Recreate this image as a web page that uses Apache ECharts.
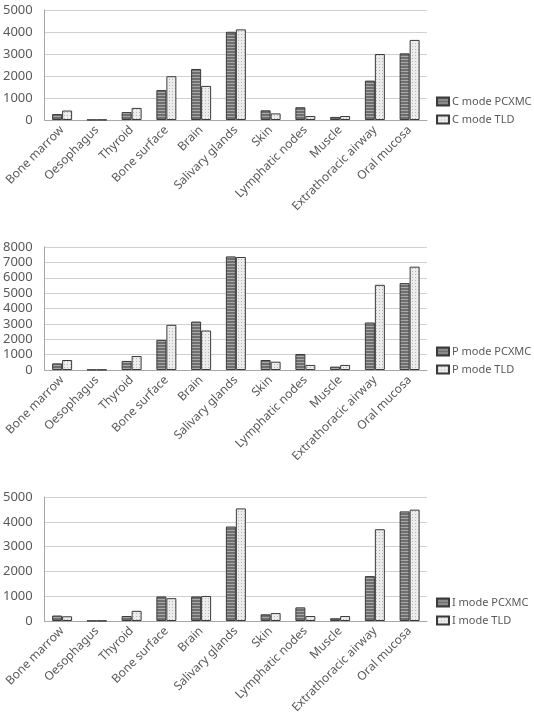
<!DOCTYPE html>
<html>
<head>
<meta charset="utf-8">
<script src="https://cdn.jsdelivr.net/npm/echarts@6/dist/echarts.min.js"></script>
<style>
  html, body { margin: 0; padding: 0; background: #fff; }
  #chart { width: 534px; height: 722px; }
</style>
</head>
<body>
<div id="chart"></div>
<script>
// organs on the x axis, same for all three panels
var organs = ["Bone marrow", "Oesophagus", "Thyroid", "Bone surface", "Brain", "Salivary glands",
  "Skin", "Lymphatic nodes", "Muscle", "Extrathoracic airway", "Oral mucosa"];

// C mode
var cPcxmc = [270, 10, 360, 1360, 2320, 4010, 440, 580, 140, 1790, 3030];
var cTld = [430, 10, 550, 1990, 1550, 4120, 300, 180, 180, 3000, 3640];
// P mode
var pPcxmc = [430, 20, 590, 1960, 3150, 7390, 650, 1040, 220, 3090, 5650];
var pTld = [650, 20, 910, 2940, 2570, 7350, 540, 330, 330, 5540, 6720];
// I mode
var iPcxmc = [220, 10, 200, 990, 990, 3810, 270, 550, 110, 1810, 4420];
var iTld = [190, 10, 410, 920, 1010, 4540, 320, 200, 200, 3700, 4490];

var yMax = [5000, 8000, 5000];
var names = [["C mode PCXMC", "C mode TLD"], ["P mode PCXMC", "P mode TLD"], ["I mode PCXMC", "I mode TLD"]];
var data = [[cPcxmc, cTld], [pPcxmc, pTld], [iPcxmc, iTld]];

// hatch fills like the printed figure
function stripes() {
  var c = document.createElement("canvas");
  c.width = 4; c.height = 3;
  var g = c.getContext("2d");
  g.fillStyle = "#6e6e6e"; g.fillRect(0, 0, 4, 3);
  g.fillStyle = "#a8a8a8"; g.fillRect(0, 2, 4, 1);
  return c;
}
function dots() {
  var c = document.createElement("canvas");
  c.width = 3; c.height = 3;
  var g = c.getContext("2d");
  g.fillStyle = "#ececec"; g.fillRect(0, 0, 3, 3);
  g.fillStyle = "#b8b8b8"; g.fillRect(1, 1, 1, 1);
  return c;
}
var darkFill = { image: stripes(), repeat: "repeat" };
var lightFill = { image: dots(), repeat: "repeat" };

var grids = [
  { left: 42, top: 10, width: 385, height: 110 },
  { left: 42, top: 247, width: 385, height: 123 },
  { left: 42, top: 497, width: 385, height: 124 }
];
var legendTop = [96, 346, 597];

var labelColor = "#595959";
var font = "Noto Sans";

var xAxis = [], yAxis = [], series = [], legend = [];
for (var k = 0; k < 3; k++) {
  xAxis.push({
    type: "category", gridIndex: k, data: organs,
    axisLine: { lineStyle: { color: "#a6a6a6" } },
    axisTick: { length: 5, lineStyle: { color: "#a6a6a6" } },
    axisLabel: { rotate: 45, interval: 0, color: labelColor, fontSize: 12, fontFamily: font, margin: 8 }
  });
  yAxis.push({
    type: "value", gridIndex: k, min: 0, max: yMax[k], interval: 1000,
    axisLine: { show: true, lineStyle: { color: "#a6a6a6" } },
    axisTick: { show: false },
    splitLine: { lineStyle: { color: "#d0d0d0" } },
    axisLabel: {
      color: labelColor, fontSize: 13, fontFamily: font, margin: 12,
      formatter: function (v) { return String(v); }
    }
  });
  series.push({
    name: names[k][0], type: "bar", xAxisIndex: k, yAxisIndex: k, data: data[k][0],
    barWidth: 10, barGap: "0%",
    itemStyle: { color: darkFill, borderColor: "#3a3a3a", borderWidth: 1 }
  });
  series.push({
    name: names[k][1], type: "bar", xAxisIndex: k, yAxisIndex: k, data: data[k][1],
    barWidth: 10, barGap: "0%",
    itemStyle: { color: lightFill, borderColor: "#3a3a3a", borderWidth: 1 }
  });
  legend.push({
    data: names[k], orient: "vertical", left: 436, top: legendTop[k],
    itemWidth: 12, itemHeight: 8, itemGap: 7, icon: "rect", padding: 0,
    textStyle: { color: labelColor, fontSize: 11, fontFamily: font, padding: [0, 0, 0, -2] }
  });
}

var chart = echarts.init(document.getElementById("chart"), null, { renderer: "canvas" });
chart.setOption({
  animation: false,
  grid: grids,
  legend: legend,
  xAxis: xAxis,
  yAxis: yAxis,
  series: series
});
</script>
</body>
</html>
